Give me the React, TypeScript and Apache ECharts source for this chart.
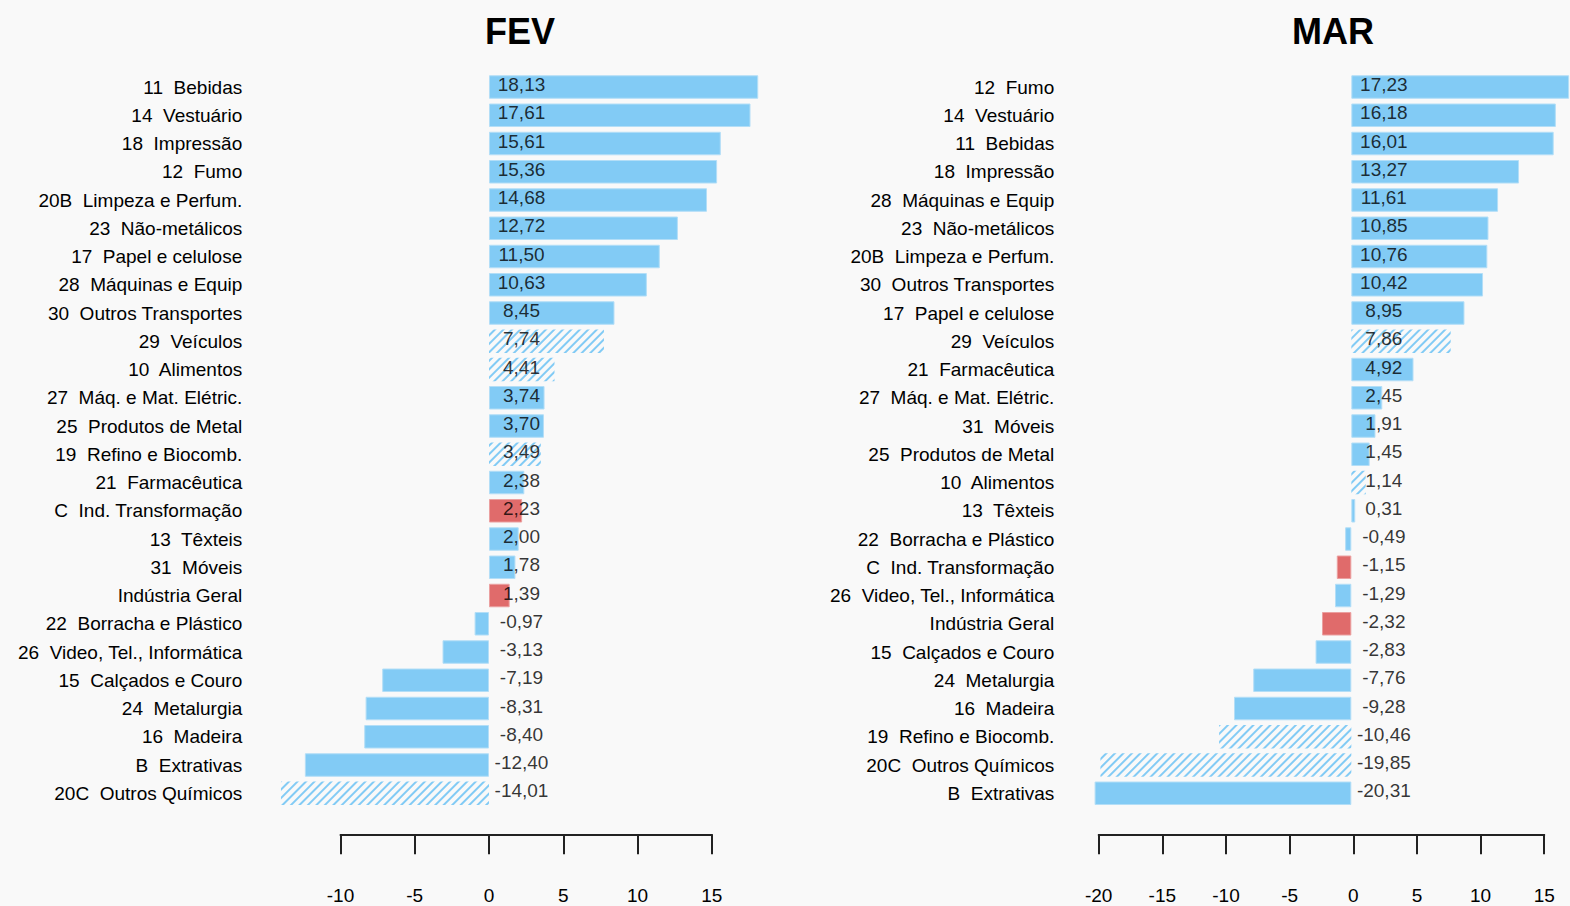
import React, { useEffect, useRef } from "react";
import * as echarts from "echarts";

const febCategories = [
  "11  Bebidas",
  "14  Vestuário",
  "18  Impressão",
  "12  Fumo",
  "20B  Limpeza e Perfum.",
  "23  Não-metálicos",
  "17  Papel e celulose",
  "28  Máquinas e Equip",
  "30  Outros Transportes",
  "29  Veículos",
  "10  Alimentos",
  "27  Máq. e Mat. Elétric.",
  "25  Produtos de Metal",
  "19  Refino e Biocomb.",
  "21  Farmacêutica",
  "C  Ind. Transformação",
  "13  Têxteis",
  "31  Móveis",
  "Indústria Geral",
  "22  Borracha e Plástico",
  "26  Video, Tel., Informática",
  "15  Calçados e Couro",
  "24  Metalurgia",
  "16  Madeira",
  "B  Extrativas",
  "20C  Outros Químicos",
];
const febValues = [
  18.13, 17.61, 15.61, 15.36, 14.68, 12.72, 11.5, 10.63, 8.45, 7.74, 4.41, 3.74, 3.7, 3.49, 2.38,
  2.23, 2.0, 1.78, 1.39, -0.97, -3.13, -7.19, -8.31, -8.4, -12.4, -14.01,
];

const marCategories = [
  "12  Fumo",
  "14  Vestuário",
  "11  Bebidas",
  "18  Impressão",
  "28  Máquinas e Equip",
  "23  Não-metálicos",
  "20B  Limpeza e Perfum.",
  "30  Outros Transportes",
  "17  Papel e celulose",
  "29  Veículos",
  "21  Farmacêutica",
  "27  Máq. e Mat. Elétric.",
  "31  Móveis",
  "25  Produtos de Metal",
  "10  Alimentos",
  "13  Têxteis",
  "22  Borracha e Plástico",
  "C  Ind. Transformação",
  "26  Video, Tel., Informática",
  "Indústria Geral",
  "15  Calçados e Couro",
  "24  Metalurgia",
  "16  Madeira",
  "19  Refino e Biocomb.",
  "20C  Outros Químicos",
  "B  Extrativas",
];
const marValues = [
  17.23, 16.18, 16.01, 13.27, 11.61, 10.85, 10.76, 10.42, 8.95, 7.86, 4.92, 2.45, 1.91, 1.45, 1.14,
  0.31, -0.49, -1.15, -1.29, -2.32, -2.83, -7.76, -9.28, -10.46, -19.85, -20.31,
];

const hatchedSectors = ["29  Veículos", "10  Alimentos", "19  Refino e Biocomb.", "20C  Outros Químicos"];
const aggregateSectors = ["C  Ind. Transformação", "Indústria Geral"];

const panelTitles = ["FEV", "MAR"];
const febAxisRange = [-10, 15];
const marAxisRange = [-20, 15];
const tickStep = 5;

const BLUE = "#82cbf5";
const RED = "#e06b6b";
const BG = "#f9f9f9";
const FONT = "'Liberation Sans', Arial, Helvetica, sans-serif";
const TEXT = "#000";

const fmt = (v: number) => v.toFixed(2).replace(".", ",");

function barData(cats: string[], vals: number[]) {
  return vals.map((v, i) => {
    const c = cats[i];
    if (hatchedSectors.includes(c)) {
      return {
        value: v,
        itemStyle: {
          color: "rgba(0,0,0,0)",
          borderWidth: 0,
          decal: {
            symbol: "rect",
            symbolSize: 1,
            dashArrayX: [1, 0],
            dashArrayY: [2, 4],
            rotation: -Math.PI / 4,
            color: BLUE,
            backgroundColor: null,
          },
        },
      };
    }
    if (aggregateSectors.includes(c)) {
      return { value: v, itemStyle: { color: RED, borderColor: "#eba0a0", borderWidth: 1 } };
    }
    return { value: v, itemStyle: { color: BLUE, borderColor: "#b3def7", borderWidth: 1 } };
  });
}

// layout: pixel geometry per panel
const ROW_TOP = 72.9;
const ROWS_H = 734.5;
const FEB_ZERO = 489;
const FEB_PX = 14.85;
const MAR_ZERO = 1353.3;
const MAR_PX = 12.73;
const FEB_MIN = -15;
const FEB_MAX = 19;
const MAR_MIN = -22;
const MAR_MAX = 17.3;

export default function App() {
  const ref = useRef<HTMLDivElement>(null);
  useEffect(() => {
    if (!ref.current) return;
    const chart = echarts.init(ref.current, undefined, { renderer: "svg" });

    const catAxis = (gridIndex: number, cats: string[], margin: number) => ({
      type: "category",
      gridIndex,
      data: cats,
      inverse: true,
      axisLine: { show: false },
      axisTick: { show: false },
      splitLine: { show: false },
      axisLabel: { fontSize: 19, color: TEXT, fontFamily: FONT, margin },
    });

    const scaleAxis = (gridIndex: number, range: number[]) => ({
      type: "value",
      gridIndex,
      min: range[0],
      max: range[1],
      interval: tickStep,
      splitLine: { show: false },
      axisLine: { show: true, onZero: false, lineStyle: { color: "#222", width: 2 } },
      axisTick: { show: true, length: 20, lineStyle: { color: "#222", width: 2 } },
      axisLabel: { fontSize: 19, color: TEXT, fontFamily: FONT, margin: 52 },
    });

    const labelSeries = (xi: number, yi: number, cats: string[], vals: number[]) => ({
      type: "scatter",
      xAxisIndex: xi,
      yAxisIndex: yi,
      symbolSize: 1,
      itemStyle: { color: "rgba(0,0,0,0)" },
      z: 5,
      silent: true,
      data: cats.map((_, i) => [0, i]),
      label: {
        show: true,
        position: [33, -2],
        align: "center",
        verticalAlign: "middle",
        fontSize: 19,
        color: TEXT,
        textBorderWidth: 0,
        fontFamily: FONT,
        formatter: (p: any) => fmt(vals[p.dataIndex]),
      },
    });

    const option: any = {
      animation: false,
      backgroundColor: BG,
      title: [
        {
          text: panelTitles[0],
          left: 515,
          top: 8,
          textAlign: "center",
          textStyle: { fontSize: 36, fontWeight: "bold", color: "#000", fontFamily: FONT },
        },
        {
          text: panelTitles[1],
          left: 1328,
          top: 8,
          textAlign: "center",
          textStyle: { fontSize: 36, fontWeight: "bold", color: "#000", fontFamily: FONT },
        },
      ],
      grid: [
        { left: FEB_ZERO + FEB_MIN * FEB_PX, top: ROW_TOP, width: (FEB_MAX - FEB_MIN) * FEB_PX, height: ROWS_H },
        { left: MAR_ZERO + MAR_MIN * MAR_PX, top: ROW_TOP, width: (MAR_MAX - MAR_MIN) * MAR_PX, height: ROWS_H },
        {
          left: FEB_ZERO + febAxisRange[0] * FEB_PX,
          top: 833.3,
          width: (febAxisRange[1] - febAxisRange[0]) * FEB_PX,
          height: 1,
        },
        {
          left: MAR_ZERO + marAxisRange[0] * MAR_PX,
          top: 833.3,
          width: (marAxisRange[1] - marAxisRange[0]) * MAR_PX,
          height: 1,
        },
      ],
      xAxis: [
        { type: "value", gridIndex: 0, min: FEB_MIN, max: FEB_MAX, show: false },
        { type: "value", gridIndex: 1, min: MAR_MIN, max: MAR_MAX, show: false },
        scaleAxis(2, febAxisRange),
        scaleAxis(3, marAxisRange),
      ],
      yAxis: [
        catAxis(0, febCategories, 24),
        catAxis(1, marCategories, 19),
        { type: "value", gridIndex: 2, show: false },
        { type: "value", gridIndex: 3, show: false },
      ],
      series: [
        {
          type: "bar",
          xAxisIndex: 0,
          yAxisIndex: 0,
          barWidth: 23.5,
          data: barData(febCategories, febValues),
        },
        {
          type: "bar",
          xAxisIndex: 1,
          yAxisIndex: 1,
          barWidth: 23.5,
          data: barData(marCategories, marValues),
        },
        labelSeries(0, 0, febCategories, febValues),
        labelSeries(1, 1, marCategories, marValues),
      ],
    };
    chart.setOption(option);
    return () => chart.dispose();
  }, []);

  return (
    <div
      ref={ref}
      style={{ position: "fixed", left: 0, top: 0, width: 1570, height: 906, background: BG }}
    />
  );
}
